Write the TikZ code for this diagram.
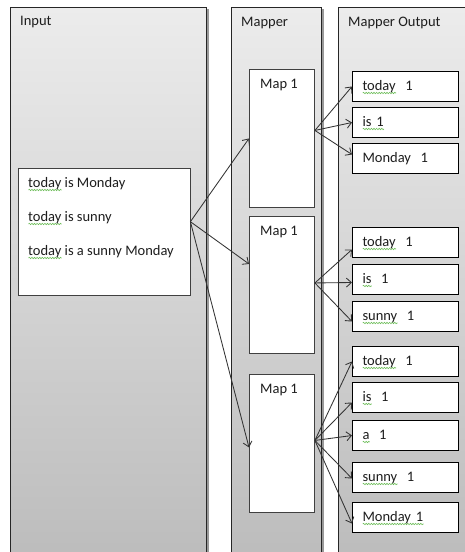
\documentclass[tikz,border=0pt]{standalone}
\usepackage{fontspec}
\setmainfont{Carlito}
\usetikzlibrary{arrows.meta,decorations.pathmorphing}
\definecolor{sqg}{RGB}{110,190,90}
\definecolor{ptop}{RGB}{236,236,236}
\definecolor{pbot}{RGB}{188,188,188}
\definecolor{txt}{RGB}{30,30,30}
\newlength\sqw
\newcommand\sq[1]{\settowidth\sqw{#1}\rlap{\tikz[baseline=0pt]\draw[sqg, line width=0.6pt, decorate, decoration={snake, amplitude=0.7pt, segment length=2.6pt}] (0pt,-3pt) -- (\sqw,-3pt);}#1}
\tikzset{
  panel/.style={draw=black!85, line width=0.8pt, top color=ptop, bottom color=pbot},
  pshadow/.style={fill=black!40},
  wbox/.style={draw=black!75, fill=white, line width=0.9pt},
  obox/.style={draw=black, fill=white, line width=1pt, anchor=north west,
    minimum width=106pt, minimum height=30pt, text width=86pt, align=left,
    inner xsep=10pt, inner ysep=0pt, text height=10pt, text depth=3pt, text=txt},
  lbl/.style={anchor=base west, inner sep=0pt, text=txt},
  arr/.style={draw=black!80, line width=0.85pt, -{Straight Barb[length=5pt,width=9pt]}}
}
\begin{document}
\begin{tikzpicture}[x=1pt,y=-1pt,font=\fontsize{14.5}{17}\selectfont]
\useasboundingbox (0,0) rectangle (465,552);
\fill[white] (0,0) rectangle (465,552);
% panel shadows
\fill[pshadow] (206,9) rectangle (208.5,560);
\fill[pshadow] (321,9) rectangle (323.5,560);
% panels
\path[panel] (10,7) rectangle (206,560);
\path[panel] (231,7) rectangle (321,560);
\path[panel] (338,7) rectangle (470,560);
\node[lbl] (pin) at (20,25) {Input};
\node[lbl] (pmap) at (241,26) {Mapper};
\node[lbl] (pout) at (348,26) {Mapper Output};
% input box
\draw[wbox] (18,168) rectangle (190,295);
\node[inner sep=0pt, minimum width=172pt, minimum height=127pt, anchor=north west] (in) at (18,168) {};
\node[lbl] (t1) at (28,187) {\sq{today} is Monday};
\node[lbl] (t2) at (28,221) {\sq{today} is sunny};
\node[lbl] (t3) at (28,255) {\sq{today} is a sunny Monday};
% map boxes
\node[wbox, inner sep=0pt, minimum width=65pt, minimum height=138pt, anchor=north west] (m1) at (249,69) {};
\node[wbox, inner sep=0pt, minimum width=65pt, minimum height=137pt, anchor=north west] (m2) at (249,216) {};
\node[wbox, inner sep=0pt, minimum width=65pt, minimum height=138pt, anchor=north west] (m3) at (249,374) {};
\node[lbl] (m1t) at (260,88) {Map 1};
\node[lbl] (m2t) at (260,235) {Map 1};
\node[lbl] (m3t) at (260,393) {Map 1};
% output boxes
\node[obox] (a1) at (352,71) {\sq{today}\ \ 1};
\node[obox] (a2) at (352,107) {\sq{is 1}};
\node[obox] (a3) at (352,143) {Monday\ \ 1};
\node[obox] (b1) at (352,227) {\sq{today}\ \ 1};
\node[obox] (b2) at (352,264) {\sq{is}\ \ 1};
\node[obox] (b3) at (352,301) {\sq{sunny}\ \ 1};
\node[obox] (c1) at (352,346) {\sq{today}\ \ 1};
\node[obox] (c2) at (352,382) {\sq{is}\ \ 1};
\node[obox] (c3) at (352,420) {\sq{a}\ \ 1};
\node[obox] (c4) at (352,462) {\sq{sunny}\ \ 1};
\node[obox] (c5) at (352,502) {\sq{Monday 1}};
% arrows input -> maps
\coordinate (io) at ([yshift=10pt]in.east);
\draw[arr] (io) -- (m1.west);
\draw[arr] (io) -- ([yshift=21pt]m2.west);
\draw[arr] (io) -- ([yshift=-4pt]m3.west);
% arrows maps -> outputs
\coordinate (o1) at ([yshift=8pt]m1.east);
\draw[arr] (o1) -- (a1.west);
\draw[arr] (o1) -- (a2.west);
\draw[arr] (o1) -- ([yshift=4pt]a3.west);
\coordinate (o2) at ([yshift=2pt]m2.east);
\draw[arr] (o2) -- ([yshift=-7pt]b1.west);
\draw[arr] (o2) -- ([yshift=-3pt]b2.west);
\draw[arr] (o2) -- ([yshift=-5pt]b3.west);
\coordinate (o3) at ([yshift=3pt]m3.east);
\draw[arr] (o3) -- (c1.west);
\draw[arr] (o3) -- ([yshift=-5pt]c2.west);
\draw[arr] (o3) -- (c3.west);
\draw[arr] (o3) -- ([yshift=-1pt]c4.west);
\draw[arr] (o3) -- ([yshift=-6pt]c5.west);
\end{tikzpicture}
\end{document}
